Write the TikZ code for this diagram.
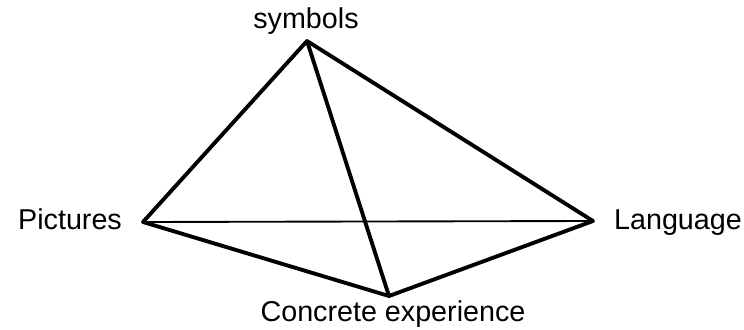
\documentclass[tikz,border=0pt]{standalone}
\usepackage{fontspec}
\setmainfont{Liberation Sans}
\usetikzlibrary{positioning}

\begin{document}
\begin{tikzpicture}[x=0.03cm, y=-0.03cm,
    edge/.style={line width=3.3pt, line join=round, line cap=round},
    thinedge/.style={line width=1.6pt},
    lbl/.style={font=\fontsize{24.5}{28}\selectfont, anchor=base, inner sep=0pt}
]
  \useasboundingbox (0,0) rectangle (744,329);
  % corners of the pyramid
  \coordinate (sym) at (307,41);
  \coordinate (pic) at (143,222);
  \coordinate (lang) at (593,221);
  \coordinate (conc) at (389,296);
  % labels
  \node[lbl] (symlbl) at (306,28) {symbols};
  \node[lbl] (piclbl) at (70,229) {Pictures};
  \node[lbl] (langlbl) at (678,229) {Language};
  \node[lbl] (conclbl) at (393,321) {Concrete experience};
  % back edge
  \draw[thinedge] (pic) -- (lang);
  % front edges
  \draw[edge] (sym) -- (pic) -- (conc) -- (lang) -- cycle;
  \draw[edge] (sym) -- (conc);
\end{tikzpicture}
\end{document}
